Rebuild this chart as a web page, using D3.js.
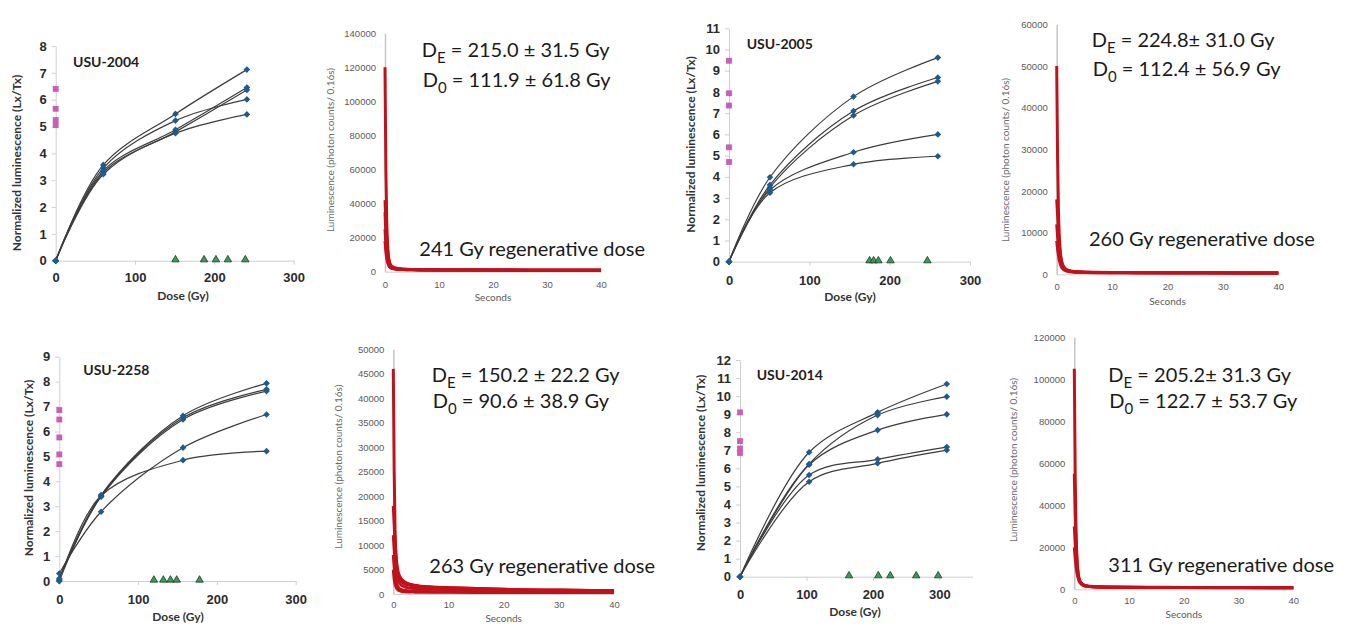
<!DOCTYPE html>
<html>
<head>
<meta charset="utf-8">
<script src="https://cdn.jsdelivr.net/npm/d3@7"></script>
<style>
  body { margin: 0; background: #fff; }
  svg { display: block; font-family: Lato, "Open Sans", sans-serif; }
  .growth .domain, .growth .tick line { stroke: #cfcfcf; }
  .growth .tick text { font-size: 13px; font-weight: 700; fill: #2b2b2b; }
  .decay .tick text { font-size: 9.5px; fill: #5a5a5a; }
  .big { font-size: 20px; fill: #1a1a1a; }
</style>
</head>
<body>
<svg class="chart" width="1349" height="625"></svg>
<script>
// ---- growth curves (Lx/Tx vs dose) ----
const doses2004 = [0, 60, 151, 241];
const lxtx2004 = [[0, 3.57, 5.47, 7.12], [0, 3.45, 5.22, 6.01], [0, 3.35, 4.88, 6.45], [0, 3.28, 4.8, 6.36], [0, 3.22, 4.75, 5.45]];
const natural2004 = [6.4, 5.66, 5.24, 5.05];
const de2004 = [151, 187, 202, 217, 239];

const doses2005 = [0, 51, 155, 260];
const lxtx2005 = [[0, 3.98, 7.78, 9.62], [0, 3.62, 7.1, 8.68], [0, 3.5, 6.89, 8.5], [0, 3.38, 5.16, 6.0], [0, 3.25, 4.59, 4.97]];
const natural2005 = [9.47, 7.94, 7.36, 5.39, 4.7];
const de2005 = [175, 180, 186, 201, 247];

const doses2258 = [0, 53, 157, 263];
const lxtx2258 = [[0.1, 3.45, 6.63, 7.93], [0, 3.4, 6.55, 7.69], [0.05, 3.38, 6.48, 7.62], [0.3, 2.78, 5.35, 6.68], [0, 3.42, 4.85, 5.21]];
const natural2258 = [6.86, 6.48, 5.76, 5.08, 4.69];
const de2258 = [120, 132, 141, 149, 178];

const doses2014 = [0, 104, 207, 311];
const lxtx2014 = [[0, 6.89, 9.1, 10.67], [0, 6.24, 8.95, 9.97], [0, 6.2, 8.12, 8.99], [0, 5.63, 6.5, 7.18], [0, 5.26, 6.28, 7.01]];
const natural2014 = [9.1, 7.51, 7.1, 6.85];
const de2014 = [164, 208, 226, 265, 298];

// ---- OSL decay curves (counts per 0.16 s) ----
const decayTime = [0, 0.16, 0.32, 0.48, 0.64, 0.8, 0.96, 1.28, 1.6, 2, 2.5, 3, 4, 5, 7, 10, 15, 20, 30, 40];
const decay2004 = [
  [120000, 60000, 30000, 16000, 9000, 6000, 4200, 2800, 2200, 1800, 1600, 1500, 1350, 1250, 1150, 1050, 1000, 950, 900, 850],
  [42000, 30000, 20000, 13000, 8500, 6000, 4500, 3200, 2600, 2200, 1900, 1700, 1500, 1350, 1200, 1100, 1000, 950, 900, 850],
  [35000, 22000, 14000, 9000, 6000, 4500, 3500, 2600, 2100, 1800, 1600, 1500, 1350, 1250, 1150, 1050, 1000, 950, 900, 850],
  [25000, 16000, 10000, 6500, 4500, 3300, 2600, 2000, 1700, 1500, 1350, 1250, 1150, 1100, 1050, 1000, 950, 900, 850, 800],
  [18000, 12000, 8000, 5500, 4000, 3000, 2500, 2000, 1800, 1600, 1400, 1300, 1200, 1100, 1050, 1000, 950, 900, 850, 800]
];
const decay2005 = [
  [50000, 28000, 15000, 9000, 5500, 3800, 2800, 1800, 1300, 1000, 800, 700, 600, 550, 500, 450, 400, 380, 350, 330],
  [18000, 14000, 10000, 7000, 5000, 3500, 2600, 1700, 1200, 900, 750, 650, 550, 500, 450, 420, 400, 380, 350, 330],
  [12000, 9000, 6500, 4500, 3200, 2400, 1800, 1300, 1000, 800, 650, 580, 500, 460, 420, 400, 380, 360, 340, 320],
  [8000, 6000, 4500, 3300, 2500, 1900, 1500, 1100, 900, 700, 600, 550, 480, 440, 400, 380, 360, 340, 320, 300]
];
const decay2258 = [
  [46000, 25000, 13000, 8000, 5500, 4200, 3500, 2800, 2400, 2100, 1900, 1800, 1600, 1500, 1400, 1300, 1100, 950, 800, 700],
  [18000, 14000, 10500, 8000, 6200, 5000, 4200, 3400, 2900, 2500, 2200, 2000, 1800, 1600, 1450, 1300, 1100, 950, 800, 700],
  [12000, 9000, 6500, 4800, 3700, 3000, 2500, 2000, 1700, 1500, 1300, 1200, 1100, 1000, 950, 900, 800, 700, 650, 600],
  [8000, 5500, 3800, 2700, 2000, 1600, 1300, 1000, 850, 750, 650, 600, 550, 500, 480, 450, 420, 400, 380, 360],
  [5000, 3000, 2000, 1500, 1100, 900, 750, 600, 500, 450, 420, 400, 380, 360, 350, 340, 330, 320, 310, 300]
];
const decay2014 = [
  [105000, 55000, 28000, 15000, 9000, 6000, 4200, 2800, 2200, 1800, 1500, 1400, 1250, 1150, 1050, 1000, 950, 900, 850, 800],
  [55000, 35000, 22000, 14000, 9000, 6000, 4500, 3000, 2300, 1800, 1500, 1350, 1200, 1100, 1000, 950, 900, 850, 800, 750],
  [30000, 22000, 15000, 10000, 7000, 5000, 3800, 2600, 2000, 1600, 1400, 1300, 1150, 1050, 1000, 950, 900, 850, 800, 750],
  [20000, 15000, 11000, 8000, 6000, 4500, 3500, 2500, 1900, 1500, 1300, 1200, 1100, 1000, 950, 900, 850, 800, 780, 750]
];

const deLabels = ["215.0 ± 31.5 Gy", "224.8± 31.0 Gy", "150.2 ± 22.2 Gy", "205.2± 31.3 Gy"];
const d0Labels = ["111.9 ± 61.8 Gy", "112.4 ± 56.9 Gy", "90.6 ± 38.9 Gy", "122.7 ± 53.7 Gy"];
const regenDoses = [241, 260, 263, 311];

const svg = d3.select(".chart");

const growthPanels = [
  { name: "USU-2004", doses: doses2004, series: lxtx2004, natural: natural2004, de: de2004, xMax: 300, yMax: 8,
    left: 55.7, right: 293.7, top: 46, bottom: 260.7, titleX: 73, titleY: 67, xtX: 183, xtY: 300, ytX: 16, ytY: 163, pad: 8 },
  { name: "USU-2005", doses: doses2005, series: lxtx2005, natural: natural2005, de: de2005, xMax: 300, yMax: 11,
    left: 729, right: 970, top: 28.3, bottom: 261.7, titleX: 746.7, titleY: 48.5, xtX: 850, xtY: 301, ytX: 690, ytY: 144.5, pad: 10 },
  { name: "USU-2258", doses: doses2258, series: lxtx2258, natural: natural2258, de: de2258, xMax: 300, yMax: 9,
    left: 59.3, right: 295.7, top: 356.7, bottom: 581, titleX: 83.3, titleY: 374.5, xtX: 178, xtY: 621, ytX: 28.3, ytY: 468, pad: 10 },
  { name: "USU-2014", doses: doses2014, series: lxtx2014, natural: natural2014, de: de2014, xMax: 350, yMax: 12,
    left: 740, right: 972.7, top: 360, bottom: 576.7, titleX: 756.7, titleY: 380, xtX: 855, xtY: 616, ytX: 700, ytY: 463, pad: 9 }
];

const decayPanels = [
  { curves: decay2004, yMax: 140000, yStep: 20000, left: 385, right: 601, top: 33.3, bottom: 271.7, pad: 9.5,
    deX: 421.7, deY: 57.3, d0Y: 86.7, rgX: 419.3, rgY: 256, ytX: 330, ytY: 150, secY: 301 },
  { curves: decay2005, yMax: 60000, yStep: 10000, left: 1056.7, right: 1278.3, top: 24.3, bottom: 274.3, pad: 8.5,
    deX: 1091.7, deY: 46.7, d0Y: 76, rgX: 1089, rgY: 246, ytX: 1005, ytY: 160, secY: 304.5 },
  { curves: decay2258, yMax: 50000, yStep: 5000, left: 393.3, right: 614, top: 349.3, bottom: 594, pad: 7.5,
    deX: 431.7, deY: 381.7, d0Y: 408.3, rgX: 429.3, rgY: 573.3, ytX: 338.3, ytY: 466.7, secY: 622 },
  { curves: decay2014, yMax: 120000, yStep: 20000, left: 1074.3, right: 1293.3, top: 337.3, bottom: 589.3, pad: 8,
    deX: 1108.3, deY: 381.7, d0Y: 408.3, rgX: 1108.3, rgY: 572.3, ytX: 1013.3, ytY: 460, secY: 618 }
];

function drawGrowth(p) {
  const g = svg.append("g").attr("class", "growth");
  const x = d3.scaleLinear().domain([0, p.xMax]).range([p.left, p.right]);
  const y = d3.scaleLinear().domain([0, p.yMax]).range([p.bottom, p.top]);

  g.append("g").attr("transform", `translate(0,${p.bottom})`)
    .call(d3.axisBottom(x).tickValues([0, 100, 200, 300]).tickSize(4).tickSizeOuter(0).tickPadding(p.pad));
  g.append("g").attr("transform", `translate(${p.left},0)`)
    .call(d3.axisLeft(y).tickValues(d3.range(0, p.yMax + 1)).tickSize(4).tickSizeOuter(0).tickPadding(5));

  // smoothed line like the spreadsheet's
  const line = d3.line()
    .x((d, i) => x(p.doses[i]))
    .y(d => y(d))
    .curve(d3.curveCatmullRom.alpha(0.5));

  g.selectAll(".fit").data(p.series).join("path")
    .attr("fill", "none").attr("stroke", "#3c3c3c").attr("stroke-width", 1.2)
    .attr("d", line);

  const pts = p.series.flatMap(s => s.map((v, i) => [p.doses[i], v]));
  g.selectAll(".pt").data(pts).join("path")
    .attr("transform", d => `translate(${x(d[0])},${y(d[1])}) rotate(45)`)
    .attr("d", d3.symbol(d3.symbolSquare, 22))
    .attr("fill", "#1f5a8e");

  g.selectAll(".nat").data(p.natural).join("path")
    .attr("transform", d => `translate(${x(0)},${y(d)})`)
    .attr("d", d3.symbol(d3.symbolSquare, 34))
    .attr("fill", "#cc5cb9");

  g.selectAll(".de").data(p.de).join("path")
    .attr("transform", d => `translate(${x(d)},${y(0) - 1})`)
    .attr("d", d3.symbol(d3.symbolTriangle, 24))
    .attr("fill", "#3d9a5c").attr("stroke", "#173a22").attr("stroke-width", 0.8);

  g.append("text").attr("x", p.titleX).attr("y", p.titleY)
    .attr("font-size", 14).attr("font-weight", 700).attr("fill", "#1e1e1e").text(p.name);
  g.append("text").attr("x", p.xtX).attr("y", p.xtY).attr("text-anchor", "middle")
    .attr("font-size", 12).attr("font-weight", 700).attr("fill", "#333").text("Dose (Gy)");
  g.append("text").attr("transform", `translate(${p.ytX},${p.ytY}) rotate(-90)`)
    .attr("text-anchor", "middle").attr("dominant-baseline", "central")
    .attr("font-size", 12).attr("font-weight", 700).attr("fill", "#333")
    .text("Normalized luminescence (Lx/Tx)");
}

function subText(g, x, y, sub, rest) {
  const t = g.append("text").attr("class", "big").attr("x", x).attr("y", y);
  t.append("tspan").text("D");
  t.append("tspan").attr("dy", 6).attr("font-size", 15).text(sub);
  t.append("tspan").attr("dy", -6).text(" = " + rest);
}

function drawDecay(p, k) {
  const g = svg.append("g").attr("class", "decay");
  const x = d3.scaleLinear().domain([0, 40]).range([p.left, p.right]);
  const y = d3.scaleLinear().domain([0, p.yMax]).range([p.bottom, p.top]);

  const xa = g.append("g").attr("transform", `translate(0,${p.bottom})`)
    .call(d3.axisBottom(x).tickValues([0, 10, 20, 30, 40]).tickSize(0).tickPadding(p.pad));
  xa.select(".domain").attr("stroke", "#cfcfcf");
  const ya = g.append("g").attr("transform", `translate(${p.left},0)`)
    .call(d3.axisLeft(y).tickValues(d3.range(0, p.yMax + 1, p.yStep)).tickSize(0).tickPadding(9).tickFormat(d3.format("d")));
  ya.select(".domain").attr("stroke", "#c4c4c4").attr("stroke-width", 1.5);

  const line = d3.line()
    .x((d, i) => x(decayTime[i]))
    .y(d => y(d))
    .curve(d3.curveMonotoneX);

  g.selectAll(".osl").data(p.curves).join("path")
    .attr("fill", "none").attr("stroke", "#c1121c").attr("stroke-width", 3)
    .attr("stroke-linejoin", "round").attr("d", line);

  g.append("text").attr("x", (p.left + p.right) / 2).attr("y", p.secY).attr("text-anchor", "middle")
    .attr("font-size", 10).attr("fill", "#5a5a5a").text("Seconds");
  g.append("text").attr("transform", `translate(${p.ytX},${p.ytY}) rotate(-90)`)
    .attr("text-anchor", "middle").attr("dominant-baseline", "central")
    .attr("font-size", 10).attr("fill", "#6a6a6a")
    .text("Luminescence (photon counts/ 0.16s)");

  subText(g, p.deX, p.deY, "E", deLabels[k]);
  subText(g, p.deX + 1, p.d0Y, "0", d0Labels[k]);
  g.append("text").attr("class", "big").attr("x", p.rgX).attr("y", p.rgY)
    .text(regenDoses[k] + " Gy regenerative dose");
}

growthPanels.forEach(drawGrowth);
decayPanels.forEach(drawDecay);
</script>
</body>
</html>
